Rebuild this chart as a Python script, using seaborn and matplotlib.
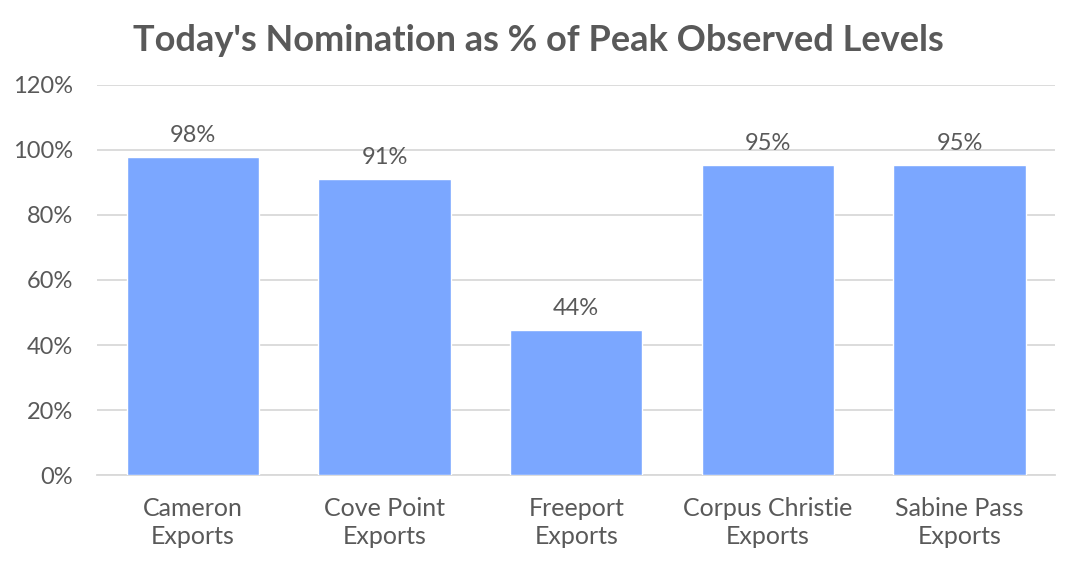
import pandas as pd
import matplotlib
matplotlib.use("Agg")
import matplotlib.pyplot as plt
import seaborn as sns
from matplotlib.ticker import PercentFormatter

sns.set_style("white")
plt.rcParams['font.family'] = ['Lato', 'DejaVu Sans']

# --- data ---
terminals = ['Cameron\nExports', 'Cove Point\nExports', 'Freeport\nExports',
             'Corpus Christie\nExports', 'Sabine Pass\nExports']
pct_of_peak = [97.8, 91.1, 44.6, 95.4, 95.4]
bar_labels = ['98%', '91%', '44%', '95%', '95%']

df = pd.DataFrame({'terminal': terminals, 'pct': pct_of_peak})

text_col = '#595959'
fig = plt.figure(figsize=(10.77, 5.65), dpi=100)
ax = fig.add_axes([0.090, 0.159, 0.890, 0.691])

sns.barplot(data=df, x='terminal', y='pct', color='#7BA7FF', saturation=1,
            width=0.69, ax=ax, zorder=3)

ax.bar_label(ax.containers[0], labels=bar_labels, padding=8,
             fontsize=17, color=text_col)

ax.set_ylim(0, 120)
ax.set_yticks(range(0, 121, 20))
ax.yaxis.set_major_formatter(PercentFormatter(decimals=0))
ax.grid(axis='y', color='#D9D9D9', linewidth=1.3, zorder=0)
ax.set_xlabel('')
ax.set_ylabel('')
for side in ['top', 'right', 'left']:
    ax.spines[side].set_visible(False)
ax.spines['bottom'].set_color('#D9D9D9')
ax.spines['bottom'].set_linewidth(1.3)
ax.tick_params(axis='y', length=0, pad=17, labelsize=17, labelcolor=text_col)
ax.tick_params(axis='x', length=0, pad=16, labelsize=18, labelcolor=text_col)
for lbl in ax.get_xticklabels():
    lbl.set_linespacing(1.25)

fig.text(0.5, 0.928, "Today's Nomination as % of Peak Observed Levels",
         ha='center', va='center', fontsize=26, fontweight='bold', color=text_col)

fig.savefig('out.png', dpi=100)
